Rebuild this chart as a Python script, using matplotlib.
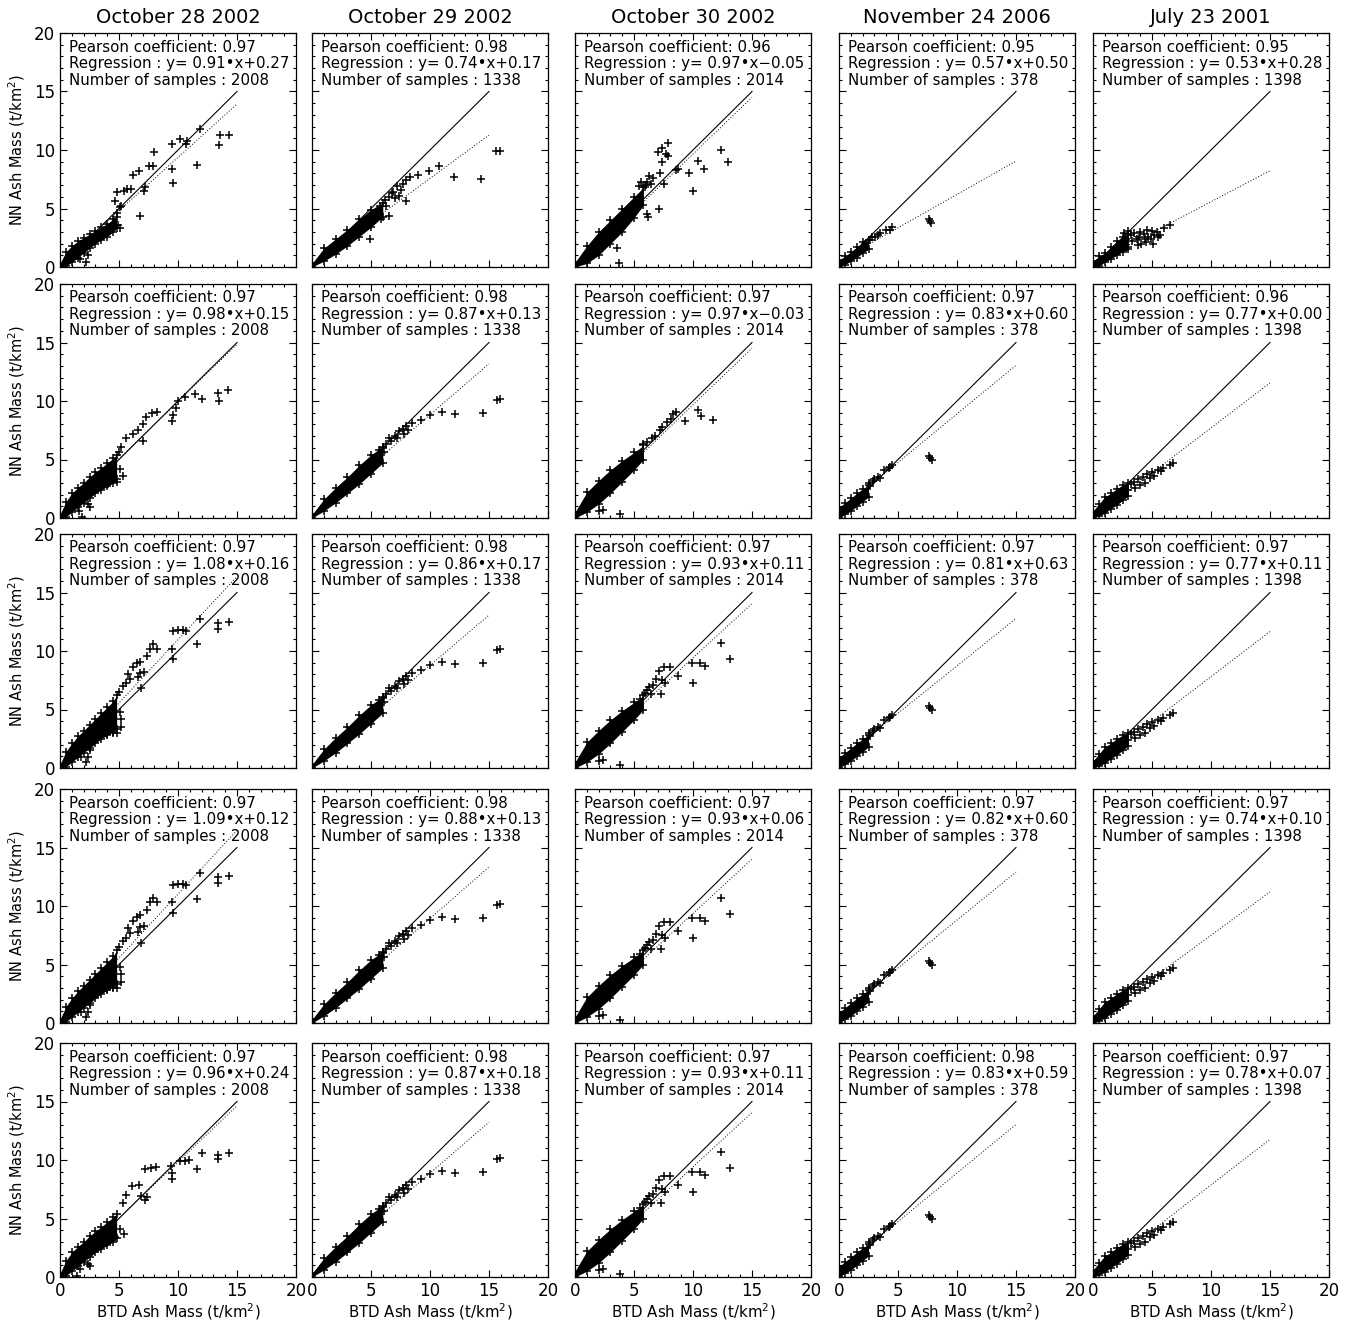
import numpy as np
import matplotlib.pyplot as plt
from matplotlib.ticker import MultipleLocator

# ---- chart values -------------------------------------------------------
events = ["October 28 2002", "October 29 2002", "October 30 2002",
          "November 24 2006", "July 23 2001"]
n_samples = [2008, 1338, 2014, 378, 1398]

# rows = the five networks, columns = the five events
pearson = [[0.97, 0.98, 0.96, 0.95, 0.95],
           [0.97, 0.98, 0.97, 0.97, 0.96],
           [0.97, 0.98, 0.97, 0.97, 0.97],
           [0.97, 0.98, 0.97, 0.97, 0.97],
           [0.97, 0.98, 0.97, 0.98, 0.97]]
slope = [[0.91, 0.74, 0.97, 0.57, 0.53],
         [0.98, 0.87, 0.97, 0.83, 0.77],
         [1.08, 0.86, 0.93, 0.81, 0.77],
         [1.09, 0.88, 0.93, 0.82, 0.74],
         [0.96, 0.87, 0.93, 0.83, 0.78]]
intercept = [[0.27, 0.17, -0.05, 0.50, 0.28],
             [0.15, 0.13, -0.03, 0.60, 0.00],
             [0.16, 0.17, 0.11, 0.63, 0.11],
             [0.12, 0.13, 0.06, 0.60, 0.10],
             [0.24, 0.18, 0.11, 0.59, 0.07]]

# dense part of each cloud: BTD value, lowest and highest NN value
oct28_core_x = [0, 0.5, 1, 1.5, 2, 2.5, 3, 3.5, 4, 4.5, 4.8]
oct28_core_lo = [[0, 0.1, 0.4, 0.8, 1.2, 1.6, 2.0, 2.3, 2.6, 3.0, 3.3],
                 [0, 0.1, 0.5, 0.9, 1.3, 1.7, 2.1, 2.4, 2.7, 3.0, 3.3],
                 [0, 0.1, 0.5, 0.9, 1.3, 1.7, 2.1, 2.5, 2.8, 3.1, 3.3],
                 [0, 0.1, 0.5, 0.9, 1.3, 1.7, 2.1, 2.5, 2.8, 3.1, 3.3],
                 [0, 0.1, 0.5, 0.9, 1.3, 1.7, 2.1, 2.4, 2.7, 3.0, 3.3]]
oct28_core_hi = [[0.3, 1.3, 1.8, 2.2, 2.5, 2.8, 3.1, 3.4, 3.7, 4.1, 4.3],
                 [0.3, 1.4, 2.1, 2.6, 3.0, 3.5, 3.9, 4.3, 4.7, 5.1, 5.4],
                 [0.3, 1.4, 2.1, 2.7, 3.2, 3.7, 4.2, 4.7, 5.2, 5.7, 6.2],
                 [0.3, 1.4, 2.1, 2.7, 3.2, 3.7, 4.2, 4.7, 5.2, 5.7, 6.2],
                 [0.3, 1.4, 2.1, 2.6, 3.0, 3.5, 3.9, 4.3, 4.7, 5.1, 5.4]]

oct29_core_x = [0, 1, 2, 3, 4, 5, 6]
oct29_core_lo = [[0, 0.5, 1.1, 1.8, 2.6, 3.4, 4.3]] + [[0, 0.6, 1.3, 2.1, 2.9, 3.8, 4.7]] * 4
oct29_core_hi = [[0.3, 1.6, 2.4, 3.2, 4.1, 4.9, 5.5]] + [[0.3, 1.6, 2.6, 3.5, 4.5, 5.4, 6.1]] * 4

oct30_core_x = [0, 1, 2, 3, 4, 5, 5.8]
oct30_core_lo = [[0, 0.3, 1.0, 2.0, 3.0, 4.2, 5.3]] + [[0, 0.5, 1.2, 2.1, 3.1, 4.1, 5.0]] * 4
oct30_core_hi = [[0.4, 1.8, 3.0, 4.0, 5.0, 6.0, 6.8]] + [[0.5, 2.2, 3.2, 4.1, 4.9, 5.6, 6.2]] * 4

nov24_core_x = [0, 0.5, 1, 1.5, 2, 2.5]
nov24_core_lo = [[0, 0.2, 0.5, 0.8, 1.2, 1.5]] + [[0, 0.3, 0.6, 1.0, 1.4, 1.8]] * 4
nov24_core_hi = [[0.6, 0.9, 1.3, 1.7, 2.1, 2.3]] + [[0.9, 1.3, 1.7, 2.1, 2.5, 2.8]] * 4

jul23_core_x = [0, 0.5, 1, 1.5, 2, 2.5, 3]
jul23_core_lo = [[0, 0.1, 0.4, 0.7, 1.0, 1.3, 1.5]] + [[0, 0.2, 0.4, 0.8, 1.1, 1.5, 1.9]] * 4
jul23_core_hi = [[0.5, 0.9, 1.2, 1.7, 2.2, 2.6, 2.8]] + [[0.6, 1.2, 1.8, 2.1, 2.5, 2.8, 3.0]] * 4

# scattered samples outside the dense part (BTD, NN)
oct28_pts = [
    [(11.9, 11.8), (13.6, 11.3), (14.3, 11.3), (13.5, 10.4), (11.6, 8.7), (9.5, 10.5),
     (10.2, 10.9), (10.7, 10.5), (10.8, 10.8), (9.5, 8.4), (9.6, 7.2), (8.0, 9.8),
     (7.9, 8.6), (7.5, 8.6), (6.7, 8.2), (6.2, 7.9), (7.2, 6.8), (7.1, 6.5), (6.8, 4.4),
     (4.7, 5.6), (4.8, 6.4), (5.4, 6.5), (5.65, 6.7), (5.1, 5.1), (4.8, 4.6), (5.2, 5.2),
     (6.0, 6.7), (5.1, 3.3), (4.9, 3.6), (2.4, 1.0), (1.7, 0.7), (2.2, 0.4)],
    [(10.0, 10.0), (10.6, 10.3), (11.4, 10.6), (12.0, 10.2), (13.4, 10.7), (13.5, 10.0),
     (14.2, 10.9), (9.8, 9.4), (9.5, 8.3), (9.6, 8.8), (8.2, 9.1), (7.8, 9.0), (7.3, 8.6),
     (7.0, 8.0), (6.6, 7.5), (6.2, 7.2), (7.0, 6.6), (5.6, 6.8), (5.2, 6.1), (5.0, 5.6),
     (5.1, 4.2), (5.3, 3.6), (4.8, 3.1), (4.1, 2.9), (2.4, 1.2), (2.5, 0.9), (1.6, 0.6),
     (1.9, 0.1)],
    [(2.5, 1.5), (2.4, 0.9), (1.8, 0.9), (2.2, 0.5), (5.6, 7.3), (5.9, 7.6), (5.8, 8.0),
     (6.2, 8.6), (6.5, 9.0), (6.8, 9.1), (7.9, 10.6), (7.6, 10.2), (8.2, 10.2), (7.35, 9.6),
     (6.8, 8.1), (7.1, 8.2), (6.9, 6.8), (9.6, 11.7), (10.0, 11.8), (10.4, 11.8),
     (10.7, 11.7), (9.5, 10.2), (9.6, 9.3), (11.6, 10.6), (11.9, 12.7), (13.4, 12.4),
     (13.4, 11.9), (14.3, 12.5), (4.8, 3.0), (5.2, 3.5), (5.1, 4.8), (5.2, 4.2), (4.5, 3.0),
     (4.0, 2.9), (5.0, 6.5), (5.3, 7.0), (6.6, 7.8)],
    [(2.5, 1.5), (2.4, 0.9), (1.8, 0.9), (2.2, 0.5), (5.6, 7.3), (5.9, 7.7), (5.8, 8.1),
     (6.2, 8.7), (6.5, 9.1), (6.8, 9.2), (7.9, 10.7), (7.6, 10.3), (8.2, 10.3), (7.35, 9.7),
     (6.8, 8.2), (7.1, 8.3), (6.9, 6.8), (9.6, 11.8), (10.0, 11.9), (10.4, 11.9),
     (10.7, 11.8), (9.5, 10.3), (9.6, 9.4), (11.6, 10.6), (11.9, 12.8), (13.4, 12.5),
     (13.4, 12.0), (14.3, 12.6), (4.8, 3.0), (5.2, 3.5), (5.1, 4.8), (5.2, 4.2), (4.5, 3.0),
     (4.0, 2.9), (5.0, 6.5), (5.3, 7.0), (6.6, 7.8)],
    [(11.6, 9.2), (12.0, 10.6), (13.4, 10.4), (13.4, 10.1), (14.3, 10.6), (9.5, 8.9),
     (9.5, 8.4), (9.4, 9.5), (10.2, 9.9), (10.9, 10.0), (10.6, 9.9), (8.1, 9.4), (7.7, 9.3),
     (7.2, 9.2), (6.7, 7.9), (6.1, 7.8), (7.2, 6.6), (6.9, 6.9), (7.4, 6.8), (5.6, 7.0),
     (5.3, 6.3), (5.1, 4.1), (5.4, 3.7), (4.7, 3.4), (3.95, 2.9), (3.4, 3.2), (1.7, 0.7),
     (2.4, 1.1), (2.5, 0.95), (1.4, 0.1)],
]
oct29_late = [(15.65, 10.1), (15.9, 10.2), (14.5, 9.0), (12.1, 8.85), (11.0, 9.1),
              (10.0, 8.8), (9.2, 8.4), (8.45, 8.1), (8.0, 7.9), (7.7, 7.6), (7.4, 7.4),
              (7.0, 7.0), (6.7, 6.6), (6.5, 6.8), (6.3, 6.3), (6.0, 6.0), (7.2, 6.8),
              (7.8, 7.2), (8.1, 7.5), (4.9, 3.9), (6.1, 5.6), (5.7, 5.8)]
oct29_pts = [
    [(15.6, 9.9), (15.9, 9.9), (14.3, 7.5), (12.0, 7.7), (10.8, 8.6), (9.9, 8.2), (9.0, 7.9),
     (8.0, 7.4), (8.3, 7.7), (7.7, 7.1), (7.5, 6.6), (7.2, 6.9), (6.8, 6.3), (6.5, 6.0),
     (6.2, 5.7), (5.8, 5.2), (7.0, 5.9), (6.9, 6.4), (8.0, 5.6), (6.55, 4.4), (5.85, 4.1),
     (4.9, 2.4), (6.3, 5.2), (7.4, 6.1)],
    oct29_late, oct29_late, oct29_late, oct29_late,
]
oct30_late = [(12.4, 10.7), (13.1, 9.3), (11.0, 8.7), (10.6, 9.0), (9.9, 9.0), (8.7, 7.9),
              (10.0, 7.3), (8.05, 8.6), (7.5, 8.6), (7.1, 8.3), (7.6, 7.3), (7.4, 7.5),
              (7.3, 6.3), (6.3, 6.9), (6.4, 6.3), (3.8, 0.26), (2.4, 0.7), (2.0, 0.6),
              (6.6, 7.1), (6.9, 7.6), (5.9, 6.4), (6.1, 6.7), (5.5, 5.9)]
oct30_pts = [
    [(7.9, 10.6), (7.35, 10.2), (7.0, 9.85), (7.7, 9.7), (7.85, 9.5), (7.4, 9.0), (6.3, 7.8),
     (6.1, 7.3), (6.45, 7.1), (7.2, 8.0), (7.5, 7.1), (8.6, 8.3), (8.75, 8.4), (9.7, 8.0),
     (10.4, 9.1), (10.9, 8.4), (10.0, 6.5), (7.1, 5.0), (12.4, 10.0), (13.0, 9.0), (6.2, 4.3),
     (6.1, 4.5), (3.6, 1.6), (3.7, 0.35), (5.6, 7.3), (6.6, 7.6), (5.9, 6.8), (5.4, 6.9),
     (6.0, 7.0)],
    [(8.3, 8.9), (8.6, 9.1), (8.1, 8.5), (7.8, 8.2), (10.4, 9.2), (11.7, 8.4), (10.7, 8.7),
     (7.2, 7.5), (6.8, 7.0), (6.5, 6.8), (9.3, 8.3), (3.8, 0.3), (2.4, 0.7), (2.0, 0.6),
     (7.4, 7.8), (6.1, 6.5), (5.8, 6.3)],
    oct30_late, oct30_late, oct30_late,
]
nov24_late = [(7.6, 5.3), (7.85, 5.0), (7.7, 5.15), (4.3, 4.35), (4.2, 4.3), (3.8, 4.1),
              (3.3, 3.5), (3.5, 3.4), (2.9, 3.2), (2.5, 3.0), (2.6, 2.7), (4.5, 4.5), (3.0, 3.3)]
nov24_pts = [
    [(7.6, 4.1), (7.8, 3.8), (7.7, 3.9), (4.45, 3.4), (4.3, 3.2), (4.0, 3.2), (3.5, 2.9),
     (3.05, 2.6), (2.6, 2.3), (3.3, 2.7), (2.8, 2.6), (2.2, 2.0)],
    nov24_late, nov24_late, nov24_late, nov24_late,
]
jul23_late = [(6.8, 4.7), (6.5, 4.5), (5.96, 4.3), (5.5, 4.1), (5.0, 3.9), (4.55, 3.8),
              (4.2, 3.5), (3.8, 3.3), (3.5, 3.1), (4.0, 2.8), (4.8, 3.4), (5.2, 3.6),
              (3.2, 2.9), (3.6, 2.6), (4.4, 3.0), (5.8, 4.0), (3.0, 2.4)]
jul23_pts = [
    [(2.2, 1.4), (2.5, 2.0), (2.8, 2.4), (3.0, 1.7), (3.2, 2.7), (3.3, 2.2), (3.5, 2.9),
     (3.7, 2.4), (3.8, 1.9), (4.0, 3.0), (4.1, 2.0), (4.3, 2.8), (4.4, 2.4), (4.6, 3.2),
     (4.7, 2.6), (4.9, 2.4), (5.0, 3.1), (5.1, 2.0), (5.2, 2.7), (5.4, 3.0), (5.55, 2.55),
     (5.7, 2.76), (6.0, 3.3), (6.5, 3.6), (2.6, 2.9), (3.0, 3.1), (2.0, 1.8), (1.8, 1.2),
     (3.9, 2.6), (4.5, 2.1)],
    jul23_late, jul23_late, jul23_late, jul23_late,
]

core_x = [oct28_core_x, oct29_core_x, oct30_core_x, nov24_core_x, jul23_core_x]
core_lo = [oct28_core_lo, oct29_core_lo, oct30_core_lo, nov24_core_lo, jul23_core_lo]
core_hi = [oct28_core_hi, oct29_core_hi, oct30_core_hi, nov24_core_hi, jul23_core_hi]
points = [oct28_pts, oct29_pts, oct30_pts, nov24_pts, jul23_pts]

# ---- layout (pixels of the 1351x1323 picture) ----------------------------
W, H = 1351, 1323
col_left = [60, 312, 575, 839, 1093]
row_top = [33, 284, 534, 789, 1043]
ax_w, ax_h = 236, 234

plt.rcParams['font.family'] = 'DejaVu Sans'
fig = plt.figure(figsize=(W / 100, H / 100), dpi=100)

for r in range(5):
    for c in range(5):
        ax = fig.add_axes([col_left[c] / W, 1 - (row_top[r] + ax_h) / H, ax_w / W, ax_h / H])
        ax.set_xlim(0, 20)
        ax.set_ylim(0, 20)

        # samples
        cx = np.array(core_x[c])
        lo = np.array(core_lo[c][r])
        hi = np.array(core_hi[c][r])
        ax.fill_between(cx, lo, hi, color='black', lw=0, zorder=2)
        ax.plot(cx, lo, 'k+', ms=6, mew=1.1, zorder=2)
        ax.plot(cx, hi, 'k+', ms=6, mew=1.1, zorder=2)
        pts = np.array(points[c][r])
        ax.plot(pts[:, 0], pts[:, 1], 'k+', ms=6, mew=1.1, zorder=2)

        # 1:1 line and regression line
        a, b = slope[r][c], intercept[r][c]
        ax.plot([0, 15], [0, 15], 'k-', lw=0.8, zorder=3)
        ax.plot([0, 15], [b, a * 15 + b], color='black', ls=(0, (1, 2)), lw=0.7, zorder=3)

        # statistics
        sign = '+' if b >= 0 else '\u2212'
        lines = ["Pearson coefficient: %.2f" % pearson[r][c],
                 "Regression : y= %.2f\u2022x%s%.2f" % (a, sign, abs(b)),
                 "Number of samples : %d" % n_samples[c]]
        for i, s in enumerate(lines):
            ax.text(9 / ax_w, 1 - (14 + 16.5 * i) / ax_h, s, transform=ax.transAxes,
                    fontsize=10.8, va='center', ha='left', zorder=4)

        # axes style
        ax.xaxis.set_major_locator(MultipleLocator(5))
        ax.yaxis.set_major_locator(MultipleLocator(5))
        ax.xaxis.set_minor_locator(MultipleLocator(1))
        ax.yaxis.set_minor_locator(MultipleLocator(1))
        ax.tick_params(which='both', direction='in', top=True, right=True, width=0.8,
                       labelsize=12)
        ax.tick_params(which='major', length=5)
        ax.tick_params(which='minor', length=2.5)
        for sp in ax.spines.values():
            sp.set_linewidth(0.9)
        if c == 0:
            ax.set_ylabel("NN Ash Mass (t/km$^2$)", fontsize=10.5, labelpad=5)
        else:
            ax.set_yticklabels([])
        if r == 4:
            ax.set_xlabel("BTD Ash Mass (t/km$^2$)", fontsize=10.8, labelpad=1)
        else:
            ax.set_xticklabels([])
        if r == 0:
            ax.set_title(events[c], fontsize=14, pad=7)

fig.savefig("out.png", dpi=100)
